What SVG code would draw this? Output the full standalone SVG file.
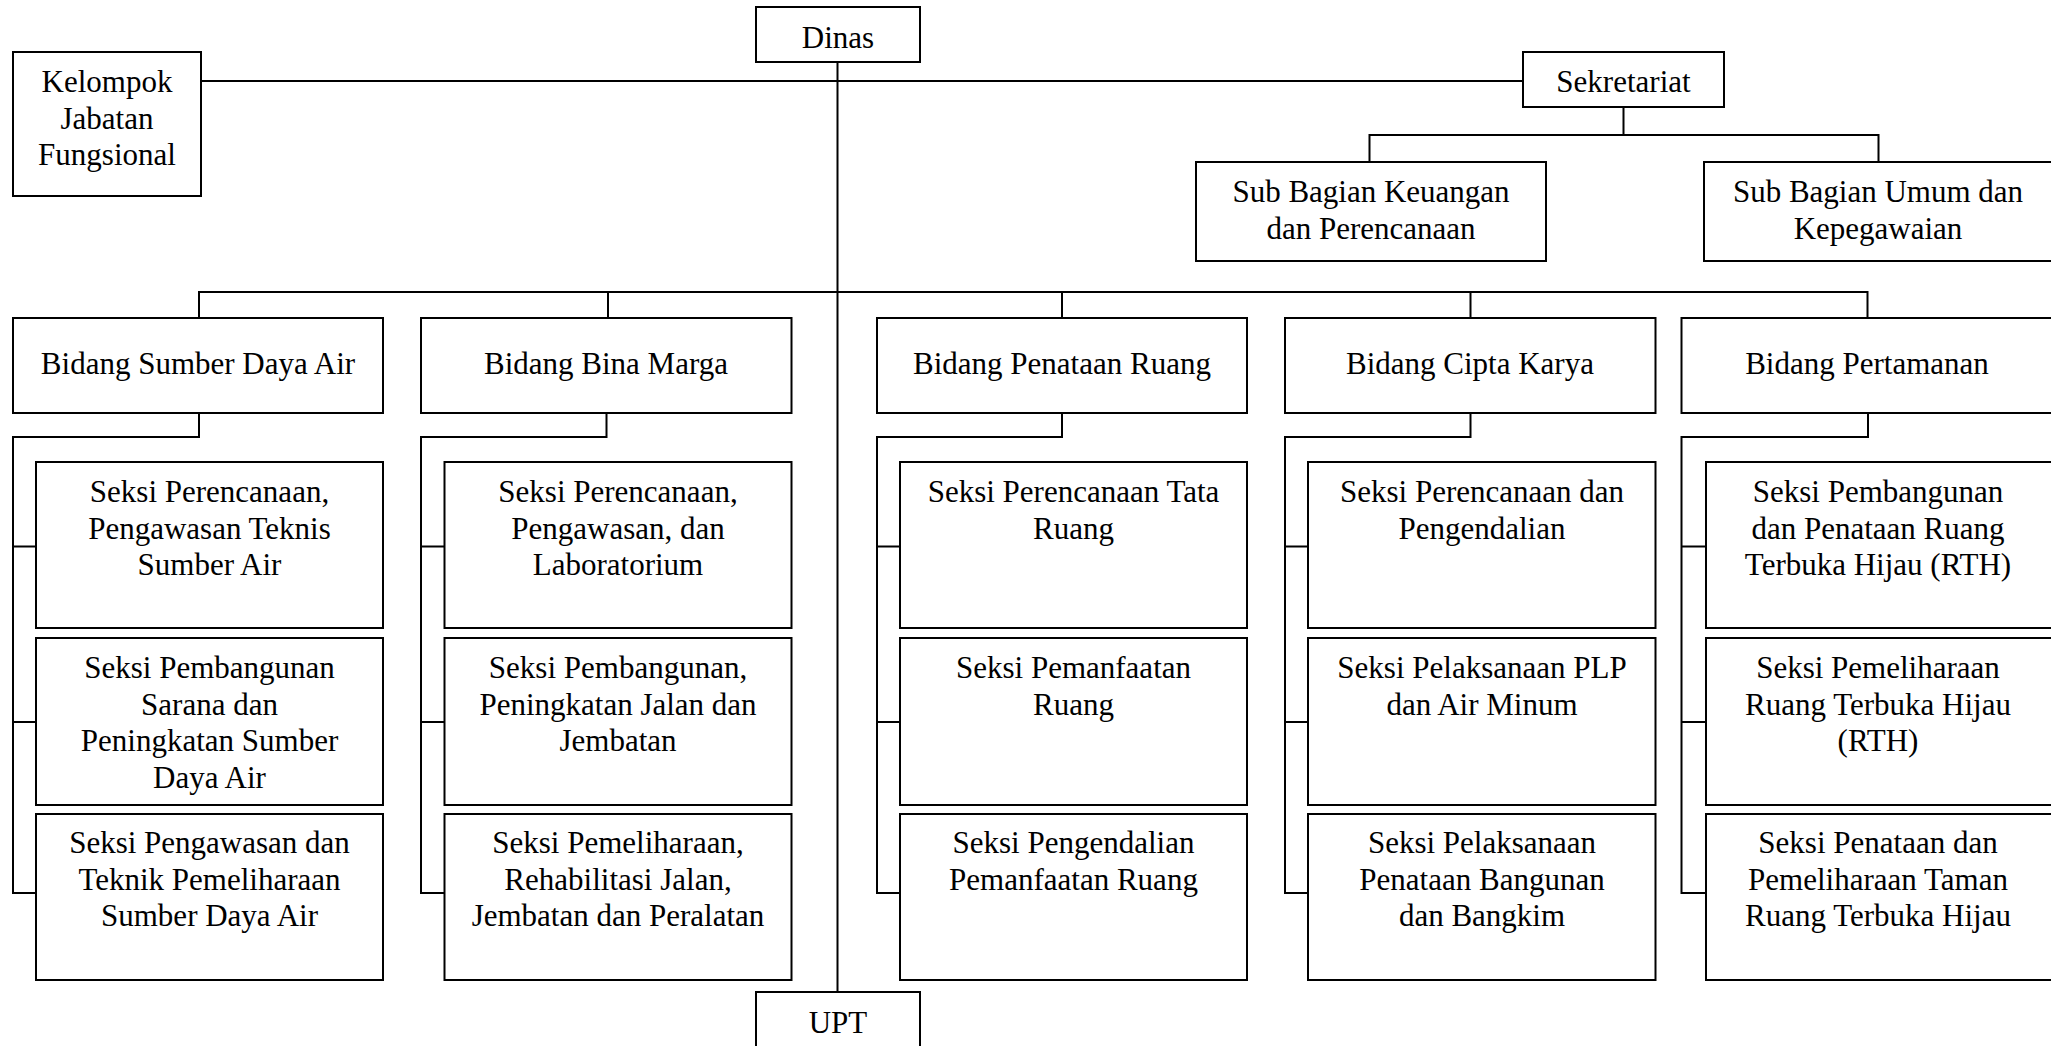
<svg xmlns="http://www.w3.org/2000/svg" width="2051" height="1046" viewBox="0 0 2051 1046">
<style>
.box{fill:#fff;stroke:#000;stroke-width:2}
.ln{fill:none;stroke:#000;stroke-width:2;stroke-linejoin:miter;stroke-linecap:square}
text{font-family:"Liberation Serif","Times New Roman",serif;font-size:31px;fill:#000;text-anchor:middle}
</style>
<rect width="2051" height="1046" fill="#fff"/>
<g id="connectors">
<path class="ln" d="M201 81H1523"/>
<path class="ln" d="M837.5 62V992"/>
<path class="ln" d="M1623.5 107V135M1369.5 162V135H1878.5V162"/>
<path class="ln" d="M199 318V292H1867.5V318M608 292V318M1062 292V318M1470.5 292V318"/>
<path class="ln" d="M199 413V437H13V893H36M13 546.5H36M13 722H36"/>
<path class="ln" d="M606.5 413V437H421V893H444.5M421 546.5H444.5M421 722H444.5"/>
<path class="ln" d="M1062 413V437H877V893H900M877 546.5H900M877 722H900"/>
<path class="ln" d="M1470.5 413V437H1285V893H1308M1285 546.5H1308M1285 722H1308"/>
<path class="ln" d="M1868 413V437H1681.5V893H1706M1681.5 546.5H1706M1681.5 722H1706"/>
</g>
<g id="dinas"><rect class="box" x="756" y="7" width="164" height="55"/><text x="838" y="48">Dinas</text></g>
<g id="kelompok"><rect class="box" x="13" y="52" width="188" height="144"/><text x="107" y="92">Kelompok</text><text x="107" y="128.5">Jabatan</text><text x="107" y="165">Fungsional</text></g>
<g id="sekretariat"><rect class="box" x="1523" y="52" width="201" height="55"/><text x="1623.5" y="92">Sekretariat</text></g>
<g id="subkeuangan"><rect class="box" x="1196" y="162" width="350" height="99"/><text x="1371" y="202">Sub Bagian Keuangan</text><text x="1371" y="238.5">dan Perencanaan</text></g>
<g id="subumum"><rect class="box" x="1704" y="162" width="360" height="99"/><text x="1878" y="202">Sub Bagian Umum dan</text><text x="1878" y="238.5">Kepegawaian</text></g>
<g id="upt"><rect class="box" x="756" y="992" width="164" height="70"/><text x="838" y="1033">UPT</text></g>
<g id="bidang-sda"><rect class="box" x="13" y="318" width="370" height="95"/><text x="198" y="374">Bidang Sumber Daya Air</text></g>
<g id="bidang-bm"><rect class="box" x="421" y="318" width="370.5" height="95"/><text x="606" y="374">Bidang Bina Marga</text></g>
<g id="bidang-pr"><rect class="box" x="877" y="318" width="370" height="95"/><text x="1062" y="374">Bidang Penataan Ruang</text></g>
<g id="bidang-ck"><rect class="box" x="1285" y="318" width="370.5" height="95"/><text x="1470" y="374">Bidang Cipta Karya</text></g>
<g id="bidang-pt"><rect class="box" x="1681.5" y="318" width="380" height="95"/><text x="1867" y="374">Bidang Pertamanan</text></g>
<g id="sda-1"><rect class="box" x="36" y="462" width="347" height="166"/><text x="209.5" y="502">Seksi Perencanaan,</text><text x="209.5" y="538.7">Pengawasan Teknis</text><text x="209.5" y="575.4">Sumber Air</text></g>
<g id="sda-2"><rect class="box" x="36" y="638" width="347" height="167"/><text x="209.5" y="678">Seksi Pembangunan</text><text x="209.5" y="714.7">Sarana dan</text><text x="209.5" y="751.4">Peningkatan Sumber</text><text x="209.5" y="788.1">Daya Air</text></g>
<g id="sda-3"><rect class="box" x="36" y="814" width="347" height="166"/><text x="209.5" y="853">Seksi Pengawasan dan</text><text x="209.5" y="889.7">Teknik Pemeliharaan</text><text x="209.5" y="926.4">Sumber Daya Air</text></g>
<g id="bm-1"><rect class="box" x="444.5" y="462" width="347" height="166"/><text x="618" y="502">Seksi Perencanaan,</text><text x="618" y="538.7">Pengawasan, dan</text><text x="618" y="575.4">Laboratorium</text></g>
<g id="bm-2"><rect class="box" x="444.5" y="638" width="347" height="167"/><text x="618" y="678">Seksi Pembangunan,</text><text x="618" y="714.7">Peningkatan Jalan dan</text><text x="618" y="751.4">Jembatan</text></g>
<g id="bm-3"><rect class="box" x="444.5" y="814" width="347" height="166"/><text x="618" y="853">Seksi Pemeliharaan,</text><text x="618" y="889.7">Rehabilitasi Jalan,</text><text x="618" y="926.4">Jembatan dan Peralatan</text></g>
<g id="pr-1"><rect class="box" x="900" y="462" width="347" height="166"/><text x="1073.5" y="502">Seksi Perencanaan Tata</text><text x="1073.5" y="538.7">Ruang</text></g>
<g id="pr-2"><rect class="box" x="900" y="638" width="347" height="167"/><text x="1073.5" y="678">Seksi Pemanfaatan</text><text x="1073.5" y="714.7">Ruang</text></g>
<g id="pr-3"><rect class="box" x="900" y="814" width="347" height="166"/><text x="1073.5" y="853">Seksi Pengendalian</text><text x="1073.5" y="889.7">Pemanfaatan Ruang</text></g>
<g id="ck-1"><rect class="box" x="1308" y="462" width="347.5" height="166"/><text x="1482" y="502">Seksi Perencanaan dan</text><text x="1482" y="538.7">Pengendalian</text></g>
<g id="ck-2"><rect class="box" x="1308" y="638" width="347.5" height="167"/><text x="1482" y="678">Seksi Pelaksanaan PLP</text><text x="1482" y="714.7">dan Air Minum</text></g>
<g id="ck-3"><rect class="box" x="1308" y="814" width="347.5" height="166"/><text x="1482" y="853">Seksi Pelaksanaan</text><text x="1482" y="889.7">Penataan Bangunan</text><text x="1482" y="926.4">dan Bangkim</text></g>
<g id="pt-1"><rect class="box" x="1706" y="462" width="360" height="166"/><text x="1878" y="502">Seksi Pembangunan</text><text x="1878" y="538.7">dan Penataan Ruang</text><text x="1878" y="575.4">Terbuka Hijau (RTH)</text></g>
<g id="pt-2"><rect class="box" x="1706" y="638" width="360" height="167"/><text x="1878" y="678">Seksi Pemeliharaan</text><text x="1878" y="714.7">Ruang Terbuka Hijau</text><text x="1878" y="751.4">(RTH)</text></g>
<g id="pt-3"><rect class="box" x="1706" y="814" width="360" height="166"/><text x="1878" y="853">Seksi Penataan dan</text><text x="1878" y="889.7">Pemeliharaan Taman</text><text x="1878" y="926.4">Ruang Terbuka Hijau</text></g>
</svg>
